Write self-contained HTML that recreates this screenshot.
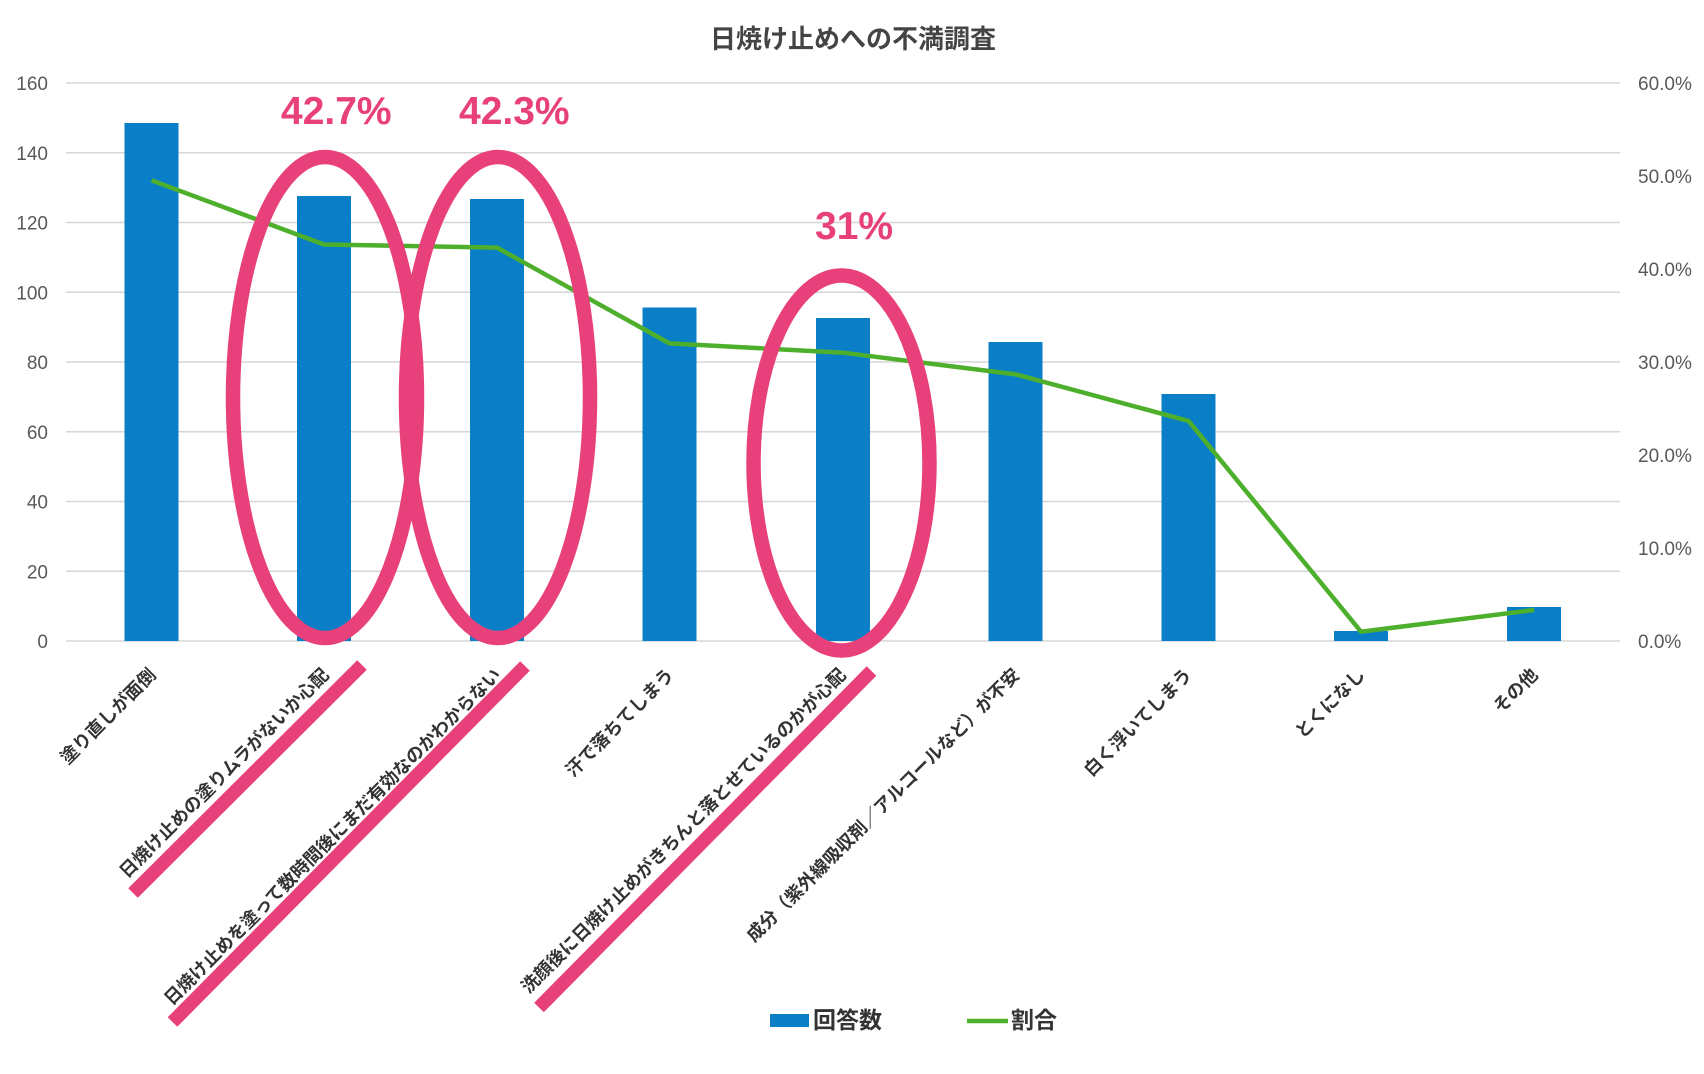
<!DOCTYPE html>
<html>
<head>
<meta charset="utf-8">
<style>
  html,body{margin:0;padding:0;background:#fff;}
  svg{display:block;}
  .ax{font-family:"Liberation Sans","Noto Sans CJK JP",sans-serif;font-size:19px;fill:#595959;}
  .xl{font-family:"Liberation Sans","Noto Sans CJK JP",sans-serif;font-size:18px;font-weight:bold;fill:#333;}
  .pct{font-family:"Liberation Sans","Noto Sans CJK JP",sans-serif;font-size:39px;font-weight:bold;fill:#E8407A;}
</style>
</head>
<body>
<svg width="1704" height="1074" viewBox="0 0 1704 1074" xmlns="http://www.w3.org/2000/svg">
  <rect width="1704" height="1074" fill="#fff"/>
  <!-- title -->
  <text x="853" y="48" text-anchor="middle" font-family="'Liberation Sans','Noto Sans CJK JP',sans-serif" font-size="26" font-weight="bold" fill="#444">日焼け止めへの不満調査</text>

  <!-- gridlines -->
  <g stroke="#d6d6d6" stroke-width="1.6">
    <line x1="66" y1="83" x2="1620" y2="83"/>
    <line x1="66" y1="152.75" x2="1620" y2="152.75"/>
    <line x1="66" y1="222.5" x2="1620" y2="222.5"/>
    <line x1="66" y1="292.25" x2="1620" y2="292.25"/>
    <line x1="66" y1="362" x2="1620" y2="362"/>
    <line x1="66" y1="431.75" x2="1620" y2="431.75"/>
    <line x1="66" y1="501.5" x2="1620" y2="501.5"/>
    <line x1="66" y1="571.25" x2="1620" y2="571.25"/>
    <line x1="66" y1="641" x2="1620" y2="641"/>
  </g>

  <!-- left axis labels -->
  <g class="ax" text-anchor="end">
    <text x="48" y="90">160</text>
    <text x="48" y="159.75">140</text>
    <text x="48" y="229.5">120</text>
    <text x="48" y="299.25">100</text>
    <text x="48" y="369">80</text>
    <text x="48" y="438.75">60</text>
    <text x="48" y="508.5">40</text>
    <text x="48" y="578.25">20</text>
    <text x="48" y="648">0</text>
  </g>
  <!-- right axis labels -->
  <g class="ax">
    <text x="1638" y="90">60.0%</text>
    <text x="1638" y="183">50.0%</text>
    <text x="1638" y="276">40.0%</text>
    <text x="1638" y="369">30.0%</text>
    <text x="1638" y="462">20.0%</text>
    <text x="1638" y="555">10.0%</text>
    <text x="1638" y="648">0.0%</text>
  </g>

  <!-- bars -->
  <g fill="#0A7FC8">
    <rect x="124.5" y="123" width="54" height="518"/>
    <rect x="297" y="196" width="54" height="445"/>
    <rect x="470" y="199" width="54" height="442"/>
    <rect x="642.5" y="307.5" width="54" height="333.5"/>
    <rect x="816" y="318" width="54" height="323"/>
    <rect x="988.5" y="342" width="54" height="299"/>
    <rect x="1161.5" y="394" width="54" height="247"/>
    <rect x="1334" y="631" width="54" height="10"/>
    <rect x="1507" y="607" width="54" height="34"/>
  </g>

  <!-- line -->
  <polyline fill="none" stroke="#4DAF2B" stroke-width="4.5" stroke-linejoin="round"
    points="151.5,180.3 324,244.5 497,247.6 669.5,343.4 843,352.7 1016,374.4 1188.5,420.9 1361,631.7 1534,610"/>

  <!-- ellipses -->
  <g fill="none" stroke="#E8407A" stroke-width="14.5">
    <ellipse cx="325" cy="397.5" rx="92" ry="240.5"/>
    <ellipse cx="498" cy="397.5" rx="92" ry="240.5"/>
    <ellipse cx="841.5" cy="463" rx="88" ry="187.5"/>
  </g>

  <!-- percent callouts -->
  <text class="pct" x="281" y="124">42.7%</text>
  <text class="pct" x="459" y="124">42.3%</text>
  <text class="pct" x="815" y="239">31%</text>

  <!-- underline highlights -->
  <g stroke="#E8407A" stroke-width="13.5" stroke-linecap="butt">
    <line x1="133" y1="893" x2="362" y2="665"/>
    <line x1="172.5" y1="1022" x2="525" y2="666"/>
    <line x1="539" y1="1007.5" x2="871.5" y2="671"/>
  </g>

  <!-- x labels -->
  <g class="xl" text-anchor="end">
    <text transform="translate(157,676) rotate(-45)">塗り直しが面倒</text>
    <text transform="translate(330,676) rotate(-45)">日焼け止めの塗りムラがないか心配</text>
    <text transform="translate(502,676) rotate(-45)">日焼け止めを塗って数時間後にまだ有効なのかわからない</text>
    <text transform="translate(675,676) rotate(-45)">汗で落ちてしまう</text>
    <text transform="translate(847,676) rotate(-45)">洗顔後に日焼け止めがきちんと落とせているのかが心配</text>
    <text transform="translate(1021,676) rotate(-45)">成分（紫外線吸収剤／アルコールなど）が不安</text>
    <text transform="translate(1193,676) rotate(-45)">白く浮いてしまう</text>
    <text transform="translate(1366,676) rotate(-45)">とくになし</text>
    <text transform="translate(1539,676) rotate(-45)">その他</text>
  </g>

  <!-- legend -->
  <rect x="770" y="1014" width="39" height="13" fill="#0A7FC8"/>
  <text x="813" y="1028" font-family="'Liberation Sans','Noto Sans CJK JP',sans-serif" font-size="23" font-weight="bold" fill="#333">回答数</text>
  <line x1="967" y1="1021" x2="1008" y2="1021" stroke="#4DAF2B" stroke-width="4.5"/>
  <text x="1011" y="1028" font-family="'Liberation Sans','Noto Sans CJK JP',sans-serif" font-size="23" font-weight="bold" fill="#333">割合</text>
</svg>
</body>
</html>
